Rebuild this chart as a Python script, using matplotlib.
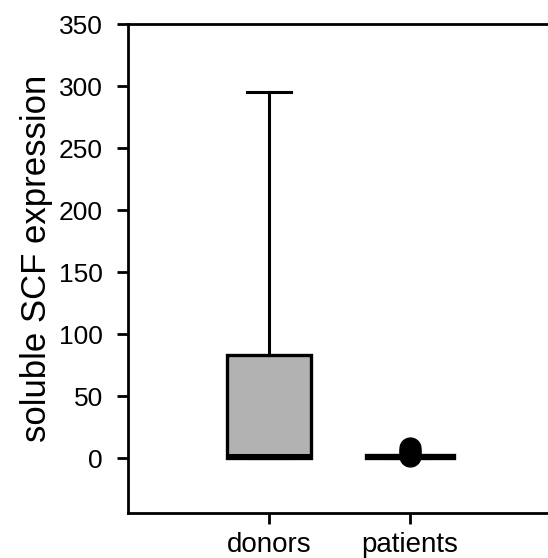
import matplotlib
matplotlib.use("Agg")
import matplotlib.pyplot as plt

plt.rcParams['font.family'] = ['Liberation Sans', 'DejaVu Sans']

categories = ["donors", "patients"]
whislo = [0, 0]
q1 = [0, 0]
medians = [3, 1.5]
q3 = [83, 3]
whishi = [295, 3]
outliers = [[], [2, 4, 6, 8]]
fill_colors = ["#b2b2b2", "#000000"]
yticks = [0, 50, 100, 150, 200, 250, 300, 350]

fig = plt.figure(figsize=(5.48, 5.58), dpi=100)
ax = fig.add_axes([128/548, 1-513/558, (551-128)/548, (513-24)/558])

stats = []
for i, c in enumerate(categories):
    stats.append(dict(label=c, whislo=whislo[i], q1=q1[i], med=medians[i],
                      q3=q3[i], whishi=whishi[i], fliers=outliers[i]))

bp = ax.bxp(stats, positions=[1, 2], widths=[0.6, 0.62], patch_artist=True,
            showfliers=True, capwidths=0.31,
            boxprops=dict(linewidth=2.4, edgecolor='black'),
            medianprops=dict(color='black', linewidth=2.2),
            whiskerprops=dict(color='black', linewidth=2.2),
            capprops=dict(color='black', linewidth=2.2),
            flierprops=dict(marker='o', markerfacecolor='black',
                            markeredgecolor='black', markersize=15))
for patch, col in zip(bp['boxes'], fill_colors):
    patch.set_facecolor(col)

ax.set_xlim(0, 3)
ax.set_ylim(-44, 350)
ax.set_yticks(yticks)
ax.set_xticks([1, 2])
ax.set_xticklabels(categories)
for s in ax.spines.values():
    s.set_linewidth(2)
ax.tick_params(axis='both', direction='out', length=8, width=2)
ax.tick_params(axis='y', pad=10, labelsize=19)
ax.tick_params(axis='x', pad=6, labelsize=20)
ax.set_ylabel("soluble SCF expression", fontsize=25)
ax.yaxis.set_label_coords(-0.177, 0.52)

fig.savefig("out.png", dpi=100)
